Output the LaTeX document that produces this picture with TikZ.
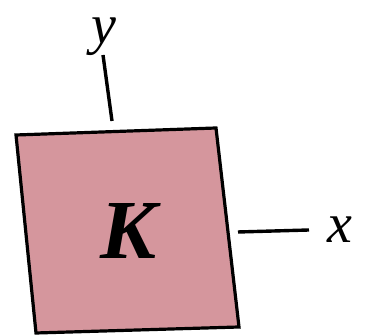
\documentclass[tikz,border=0pt]{standalone}
\usepackage{fontspec}
\setmainfont{Liberation Serif}
\definecolor{plate}{RGB}{213,150,157}
\begin{document}
\begin{tikzpicture}[x=1pt,y=1pt,
  edge/.style={line width=3.2pt,line join=miter},
  axisline/.style={line width=3.4pt},
  axlabel/.style={font=\fontsize{56}{56}\selectfont\itshape,inner sep=0pt}]
\useasboundingbox (0,0) rectangle (368,336);
\coordinate (tl) at (16,201);
\coordinate (tr) at (216,208);
\coordinate (br) at (239,9);
\coordinate (bl) at (36,3);
\filldraw[edge,fill=plate] (tl) -- (tr) -- (br) -- (bl) -- cycle;
\node[inner sep=0pt,font=\fontsize{84}{84}\selectfont\bfseries\itshape] (K) at (129,105) {K};
\coordinate (ytop) at (112,215);
\coordinate (yend) at (103,281);
\node[axlabel] (y) at (104,299) {y};
\draw[axisline] (ytop) -- (yend);
\coordinate (xstart) at (238,104);
\coordinate (xend) at (309,106);
\node[axlabel] (x) at (340,106) {x};
\draw[axisline] (xstart) -- (xend);
\end{tikzpicture}
\end{document}
